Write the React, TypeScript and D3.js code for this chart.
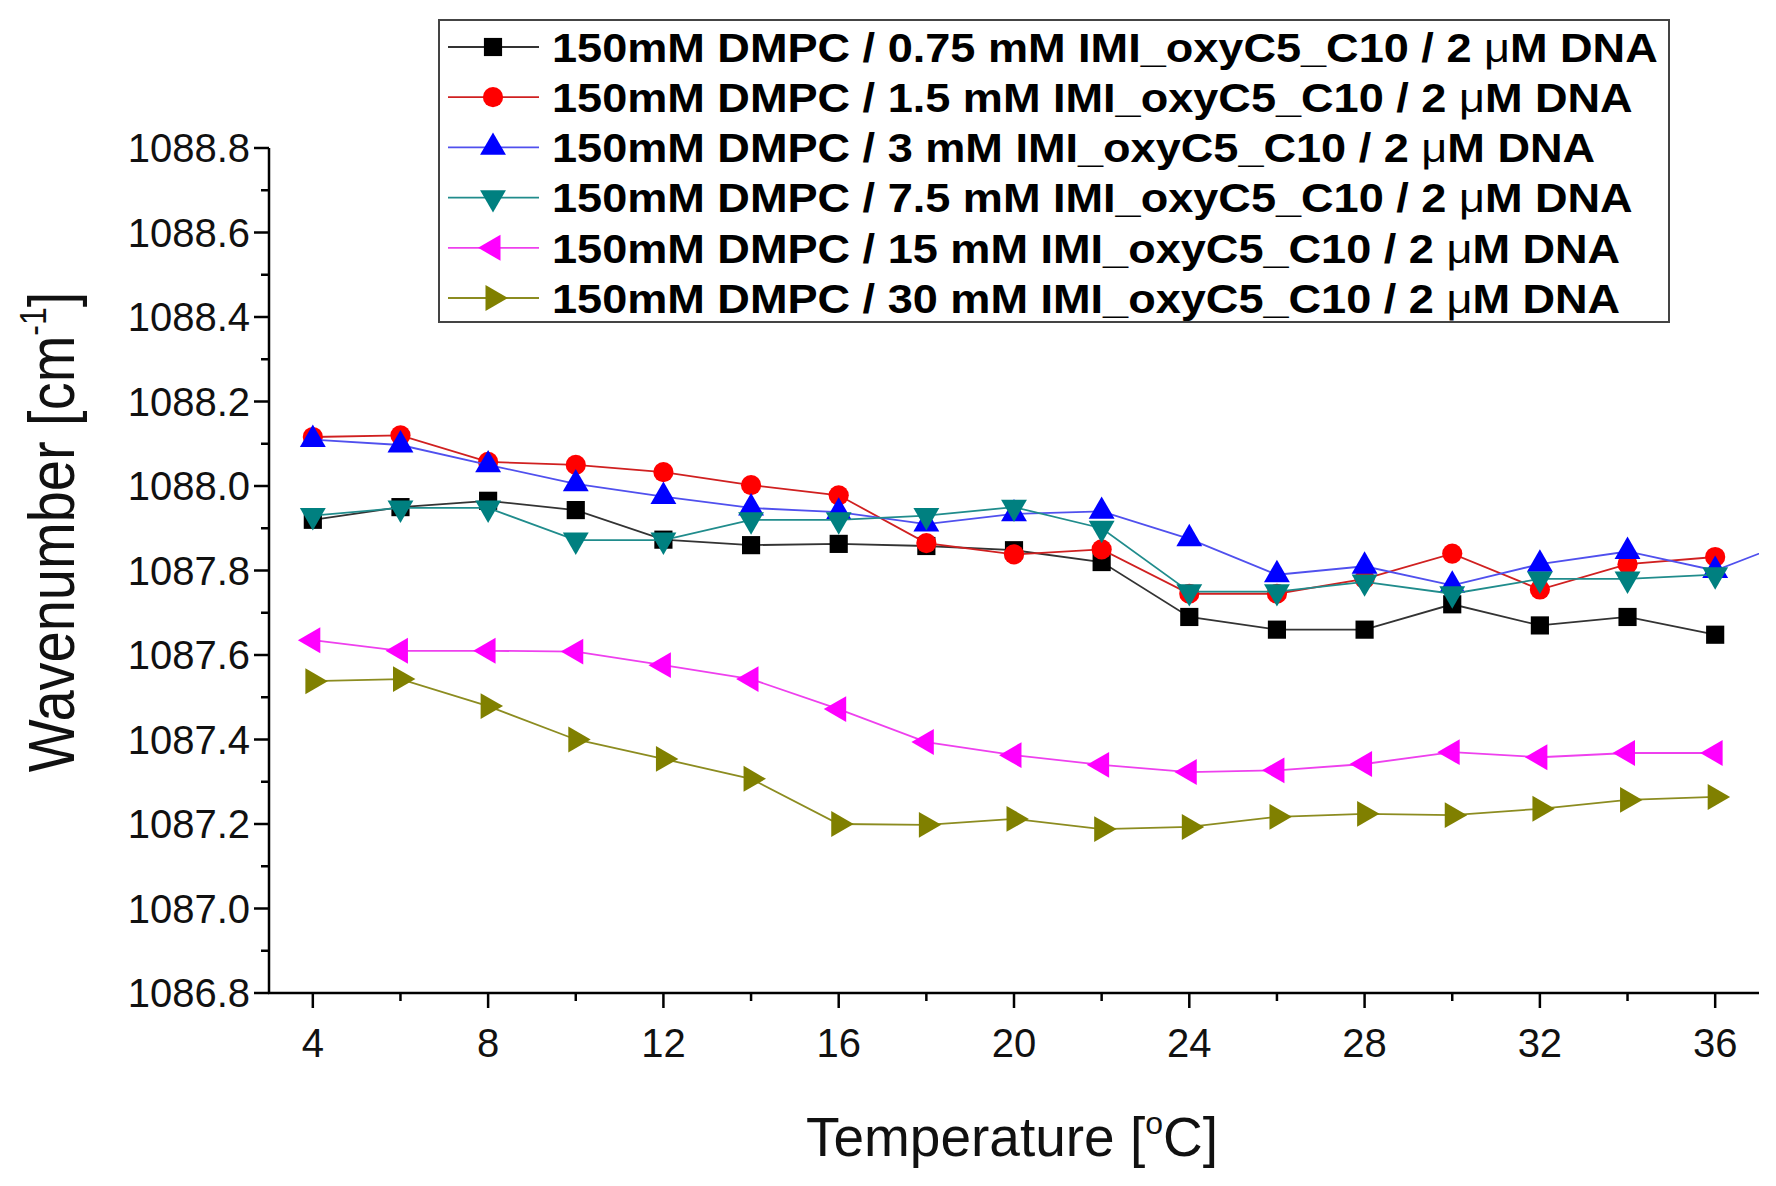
import * as d3 from 'd3';

// temperatures in °C
const temps = [4, 6, 8, 10, 12, 14, 16, 18, 20, 22, 24, 26, 28, 30, 32, 34, 36];
// the 3 mM run has one more point past the axis end (clipped)
const tempsExt = [...temps, 38];

const wn075 = [1087.92, 1087.95, 1087.965, 1087.943, 1087.873, 1087.86, 1087.863, 1087.858, 1087.848, 1087.82, 1087.69, 1087.66, 1087.66, 1087.72, 1087.67, 1087.69, 1087.648];
const wn15 = [1088.116, 1088.12, 1088.057, 1088.05, 1088.033, 1088.002, 1087.978, 1087.865, 1087.838, 1087.85, 1087.745, 1087.745, 1087.78, 1087.84, 1087.755, 1087.815, 1087.832];
const wn3 = [1088.11, 1088.097, 1088.05, 1088.005, 1087.975, 1087.948, 1087.938, 1087.91, 1087.934, 1087.94, 1087.875, 1087.79, 1087.81, 1087.765, 1087.815, 1087.845, 1087.80, 1087.88];
const wn75 = [1087.93, 1087.948, 1087.948, 1087.872, 1087.872, 1087.92, 1087.92, 1087.93, 1087.95, 1087.90, 1087.75, 1087.75, 1087.773, 1087.745, 1087.78, 1087.78, 1087.79];
const wn15mM = [1087.635, 1087.61, 1087.61, 1087.608, 1087.576, 1087.543, 1087.472, 1087.394, 1087.363, 1087.34, 1087.323, 1087.327, 1087.342, 1087.37, 1087.358, 1087.368, 1087.368];
const wn30 = [1087.538, 1087.543, 1087.479, 1087.40, 1087.354, 1087.307, 1087.20, 1087.198, 1087.212, 1087.188, 1087.193, 1087.217, 1087.224, 1087.221, 1087.236, 1087.257, 1087.264];

const concLabels = ['0.75', '1.5', '3', '7.5', '15', '30'];

const xTicks = [4, 8, 12, 16, 20, 24, 28, 32, 36];
const yTicks = [1086.8, 1087.0, 1087.2, 1087.4, 1087.6, 1087.8, 1088.0, 1088.2, 1088.4, 1088.6, 1088.8];

type Shape = 'square' | 'circle' | 'up' | 'down' | 'left' | 'right';

interface Series {
  conc: string;
  xs: number[];
  ys: number[];
  color: string;
  lineColor: string;
  shape: Shape;
}

const series: Series[] = [
  { conc: concLabels[0], xs: temps, ys: wn075, color: '#000000', lineColor: '#333333', shape: 'square' },
  { conc: concLabels[1], xs: temps, ys: wn15, color: '#ff0000', lineColor: '#d02020', shape: 'circle' },
  { conc: concLabels[2], xs: tempsExt, ys: wn3, color: '#0000ff', lineColor: '#5050ee', shape: 'up' },
  { conc: concLabels[3], xs: temps, ys: wn75, color: '#008080', lineColor: '#208c8c', shape: 'down' },
  { conc: concLabels[4], xs: temps, ys: wn15mM, color: '#ff00ff', lineColor: '#ee40ee', shape: 'left' },
  { conc: concLabels[5], xs: temps, ys: wn30, color: '#808000', lineColor: '#8c8c20', shape: 'right' },
];

const W = 1776;
const H = 1186;
const left = 269;
const right = 1759;
const top = 148;
const bottom = 993;

const x = d3.scaleLinear().domain([3, 37]).range([left, right]);
const y = d3.scaleLinear().domain([1086.8, 1088.8]).range([bottom, top]);

const xMinor = d3.range(4, 37, 2).filter(v => !xTicks.includes(v));
const yMinor = d3.range(0, 20).map(i => 1086.9 + i * 0.2).filter(v => v < 1088.8);

const symbolPath = (shape: Shape) => {
  if (shape === 'square') return d3.symbol(d3.symbolSquare, 330)() || '';
  if (shape === 'circle') return d3.symbol(d3.symbolCircle, 320)() || '';
  return d3.symbol(d3.symbolTriangle, 290)() || '';
};
const rotation: Record<Shape, number> = { square: 0, circle: 0, up: 0, down: 180, left: -90, right: 90 };

const Marker = ({ s, cx, cy }: { s: Series; cx: number; cy: number }) => (
  <path
    d={symbolPath(s.shape)}
    transform={`translate(${cx},${cy}) rotate(${rotation[s.shape]})`}
    fill={s.color}
  />
);

const App = () => {
  const line = d3.line<number>();
  const font = "'Liberation Sans', Arial, sans-serif";

  return (
    <svg width={W} height={H} style={{ position: 'absolute', left: 0, top: 0, background: '#fff' }} fontFamily={font}>
      <defs>
        <clipPath id="plot">
          <rect x={left} y={top - 30} width={right - left} height={bottom - top + 60} />
        </clipPath>
      </defs>

      {/* series */}
      <g clipPath="url(#plot)">
        {series.map(s => {
          const pts = s.xs.map((t, i) => [x(t), y(s.ys[i])] as [number, number]);
          return (
            <g key={s.conc}>
              <path d={d3.line()(pts) || ''} fill="none" stroke={s.lineColor} strokeWidth={1.8} />
              {pts.map(([cx, cy], i) => (
                <Marker key={i} s={s} cx={cx} cy={cy} />
              ))}
            </g>
          );
        })}
      </g>

      {/* axes */}
      <g stroke="#000" strokeWidth={2.5}>
        <line x1={left} x2={left} y1={top} y2={bottom + 1} />
        <line x1={left - 1} x2={right} y1={bottom} y2={bottom} />
        {xTicks.map(t => (
          <line key={t} x1={x(t)} x2={x(t)} y1={bottom} y2={bottom + 15} />
        ))}
        {xMinor.map(t => (
          <line key={t} x1={x(t)} x2={x(t)} y1={bottom} y2={bottom + 8} />
        ))}
        {yTicks.map(t => (
          <line key={t} x1={left} x2={left - 15} y1={y(t)} y2={y(t)} />
        ))}
        {yMinor.map(t => (
          <line key={t} x1={left} x2={left - 8} y1={y(t)} y2={y(t)} />
        ))}
      </g>

      <g fontSize={40} fill="#111">
        {xTicks.map(t => (
          <text key={t} x={x(t)} y={bottom + 64} textAnchor="middle">{t}</text>
        ))}
        {yTicks.map(t => (
          <text key={t} x={left - 19} y={y(t)} dy="0.36em" textAnchor="end">{t.toFixed(1)}</text>
        ))}
      </g>

      {/* axis titles */}
      <text x={1012} y={1156} fontSize={55} textAnchor="middle" fill="#111">
        Temperature [<tspan fontSize={32} dy={-22}>o</tspan><tspan dy={22}>C]</tspan>
      </text>
      <text transform="translate(74,532) rotate(-90) scale(1,1.17)" fontSize={56} textAnchor="middle" fill="#111">
        Wavenumber [cm<tspan fontSize={32} dy={-24}>-1</tspan><tspan dy={24}>]</tspan>
      </text>

      {/* legend */}
      <g>
        <rect x={439} y={20} width={1230} height={302} fill="#fff" stroke="#444" strokeWidth={2} />
        {series.map((s, i) => {
          const cy = 47 + i * 50.2;
          return (
            <g key={s.conc}>
              <path d={line([[448, cy], [539, cy]]) || ''} stroke={s.lineColor} strokeWidth={1.8} />
              <Marker s={s} cx={493} cy={cy} />
              <text transform={`translate(552,${cy}) scale(1.1,1)`} dy="0.36em" fontSize={41} fontWeight="bold" fill="#000">
                {`150mM DMPC / ${s.conc} mM IMI_oxyC5_C10 / 2 `}
                <tspan fontWeight="normal">μ</tspan>M DNA
              </text>
            </g>
          );
        })}
      </g>
    </svg>
  );
};

export default App;
